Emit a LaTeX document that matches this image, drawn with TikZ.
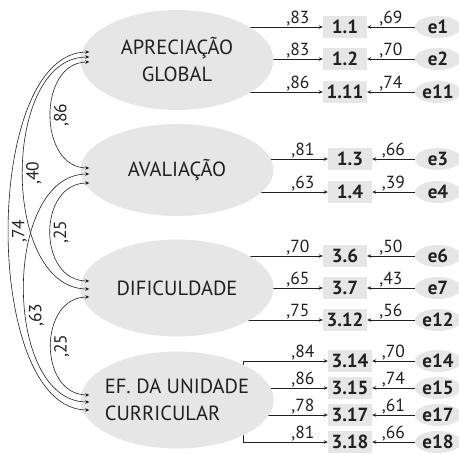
\documentclass[tikz,border=0pt]{standalone}
\usepackage{fontspec}
\setmainfont{PT Sans}
\usetikzlibrary{arrows.meta,positioning,shapes.geometric,backgrounds}
\definecolor{factorgray}{RGB}{230,230,230}
\definecolor{inkgray}{RGB}{35,31,32}

\begin{document}
\begin{tikzpicture}[x=1pt,y=-1pt,
    factor/.style={ellipse, fill=factorgray, minimum width=193pt, minimum height=97pt, inner sep=0pt, inner xsep=-20pt, align=center, text=inkgray, font=\fontsize{20.5}{27}\selectfont},
    item/.style={rectangle, fill=factorgray, minimum width=44pt, minimum height=22pt, inner sep=0pt, text=inkgray, font=\fontsize{19}{20}\selectfont\bfseries},
    err/.style={ellipse, fill=factorgray, minimum width=46pt, minimum height=22pt, inner sep=0pt, text=inkgray, font=\fontsize{19}{20}\selectfont\bfseries},
    load/.style={-{Stealth[length=4pt,width=3.5pt]}, line width=0.6pt, draw=inkgray},
    cov/.style={{Stealth[length=4pt,width=3.5pt]}-{Stealth[length=4pt,width=3.5pt]}, line width=0.6pt, draw=inkgray},
    coef/.style={inner sep=1pt, text=inkgray, font=\fontsize{17.5}{18}\selectfont},
    vcoef/.style={coef, rotate=90, anchor=north, inner sep=3pt}
]
\useasboundingbox (0,0) rectangle (459,454);

% factors
\node[factor, minimum height=100pt] (apr) at (177,60) {APRECIAÇÃO\\GLOBAL};
\node[factor, minimum height=92pt] (ava) at (177,170) {AVALIAÇÃO};
\node[factor] (dif) at (177,288) {DIFICULDADE};
\node[factor, align=left] (ef) at (177,400) {EF. DA UNIDADE\\CURRICULAR};

% items
\node[item] (i11) at (345,27) {1.1};
\node[item] (i12) at (345,59) {1.2};
\node[item] (i111) at (345,92) {1.11};
\node[item] (i13) at (350,159) {1.3};
\node[item] (i14) at (350,192) {1.4};
\node[item] (i36) at (345,256) {3.6};
\node[item] (i37) at (345,288) {3.7};
\node[item] (i312) at (345,320) {3.12};
\node[item] (i314) at (350,361) {3.14};
\node[item] (i315) at (350,388) {3.15};
\node[item] (i317) at (350,415) {3.17};
\node[item] (i318) at (350,442) {3.18};

% errors
\node[err] (e1) at (438,27) {e1};
\node[err] (e2) at (438,59) {e2};
\node[err] (e11) at (438,92) {e11};
\node[err] (e3) at (438,159) {e3};
\node[err] (e4) at (438,192) {e4};
\node[err] (e6) at (438,256) {e6};
\node[err] (e7) at (438,288) {e7};
\node[err] (e12) at (438,320) {e12};
\node[err] (e14) at (438,361) {e14};
\node[err] (e15) at (438,388) {e15};
\node[err] (e17) at (438,415) {e17};
\node[err] (e18) at (438,442) {e18};

% loadings, behind the factors
\begin{scope}[on background layer]
\draw[load] (apr.center |- i11) -- node[coef, pos=1, anchor=south east, xshift=-12pt] {,83} (i11.west);
\draw[load] (apr.center |- i12) -- node[coef, pos=1, anchor=south east, xshift=-12pt] {,83} (i12.west);
\draw[load] (apr.center |- i111) -- node[coef, pos=1, anchor=south east, xshift=-12pt] {,86} (i111.west);
\draw[load] (ava.center |- i13) -- node[coef, pos=1, anchor=south east, xshift=-12pt] {,81} (i13.west);
\draw[load] (ava.center |- i14) -- node[coef, pos=1, anchor=south east, xshift=-12pt] {,63} (i14.west);
\draw[load] (dif.center |- i36) -- node[coef, pos=1, anchor=south east, xshift=-12pt] {,70} (i36.west);
\draw[load] (dif.center |- i37) -- node[coef, pos=1, anchor=south east, xshift=-12pt] {,65} (i37.west);
\draw[load] (dif.center |- i312) -- node[coef, pos=1, anchor=south east, xshift=-12pt] {,75} (i312.west);
\draw[load] ([xshift=66pt]ef.center) |- node[coef, pos=1, anchor=south east, xshift=-12pt] {,84} (i314.west);
\draw[load] (ef.center |- i315) -- node[coef, pos=1, anchor=south east, xshift=-12pt] {,86} (i315.west);
\draw[load] (ef.center |- i317) -- node[coef, pos=1, anchor=south east, xshift=-12pt] {,78} (i317.west);
\draw[load] ([xshift=66pt]ef.center) |- node[coef, pos=1, anchor=south east, xshift=-12pt] {,81} (i318.west);
\end{scope}

% errors to items
\draw[load] (e1) -- node[coef, above] {,69} (i11);
\draw[load] (e2) -- node[coef, above] {,70} (i12);
\draw[load] (e11) -- node[coef, above] {,74} (i111);
\draw[load] (e3) -- node[coef, above] {,66} (i13);
\draw[load] (e4) -- node[coef, above] {,39} (i14);
\draw[load] (e6) -- node[coef, above] {,50} (i36);
\draw[load] (e7) -- node[coef, above] {,43} (i37);
\draw[load] (e12) -- node[coef, above] {,56} (i312);
\draw[load] (e14) -- node[coef, above] {,70} (i314);
\draw[load] (e15) -- node[coef, above] {,74} (i315);
\draw[load] (e17) -- node[coef, above] {,61} (i317);
\draw[load] (e18) -- node[coef, above] {,66} (i318);

% correlations
\draw[cov] ([shift={(9,2)}]apr.west) to[out=180, in=180, looseness=1.25] node[vcoef, midway] {,86} ([shift={(9,-2)}]ava.west);
\draw[cov] ([shift={(9,-3)}]apr.west) to[out=180, in=180, looseness=0.98] node[vcoef, midway] {,40} ([shift={(9,1)}]dif.west);
\draw[cov] ([shift={(9,-8)}]apr.west) to[out=180, in=180, looseness=0.77] node[vcoef, midway] {,74} ([shift={(9,10)}]ef.west);
\draw[cov] ([shift={(9,13)}]ava.west) to[out=180, in=180, looseness=1.36] node[vcoef, midway] {,25} ([shift={(9,-7)}]dif.west);
\draw[cov] ([shift={(9,4)}]ava.west) to[out=180, in=180, looseness=0.98] node[vcoef, pos=0.58] {,63} ([shift={(9,2)}]ef.west);
\draw[cov] ([shift={(9,9)}]dif.west) to[out=180, in=180, looseness=1.34] node[vcoef, midway] {,25} ([shift={(9,-5)}]ef.west);
\end{tikzpicture}
\end{document}
